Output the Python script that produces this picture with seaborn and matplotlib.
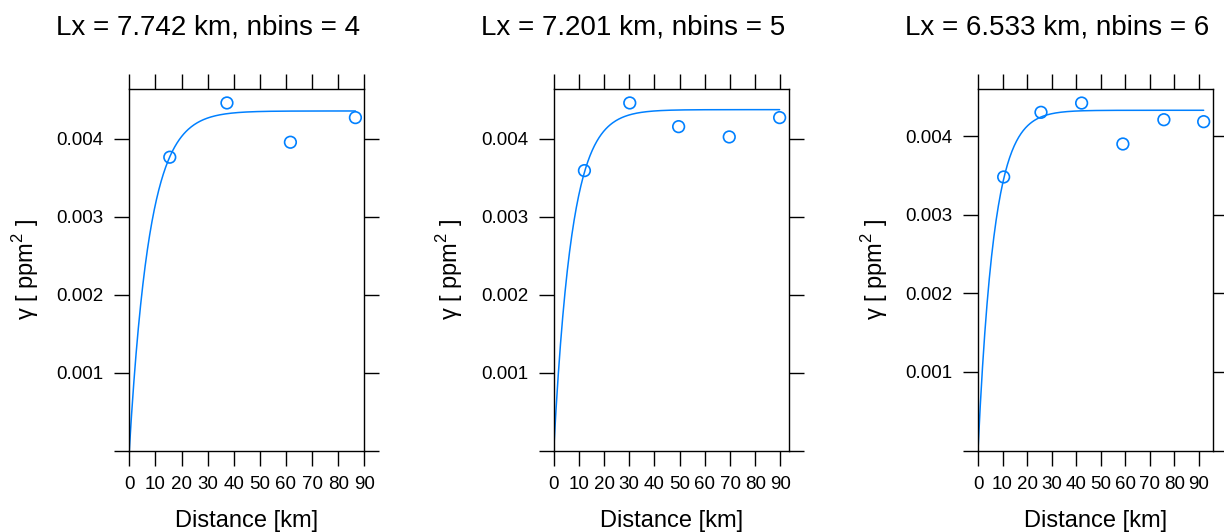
import numpy as np
import pandas as pd
import matplotlib
matplotlib.use("Agg")
import matplotlib.pyplot as plt
import seaborn as sns

# ---- data ----
titles = ["Lx = 7.742 km, nbins = 4", "Lx = 7.201 km, nbins = 5", "Lx = 6.533 km, nbins = 6"]
lx_km = [7.742, 7.201, 6.533]
sill = [0.004355, 0.004372, 0.004330]

dist1 = [15.5, 37.4, 61.7, 86.6]
gam1 = [0.003762, 0.004458, 0.003954, 0.004270]
dist2 = [12.2, 30.2, 49.6, 69.7, 89.7]
gam2 = [0.003590, 0.004458, 0.004154, 0.004022, 0.004270]
dist3 = [10.45, 25.65, 42.2, 59.0, 75.7, 91.9]
gam3 = [0.003481, 0.004304, 0.004422, 0.003901, 0.004210, 0.004185]

xlims = [(0, 90.0), (0, 93.3), (0, 95.7)]
ylims = [(0, 0.004633), (0, 0.004633), (0, 0.004597)]
xticks = [0, 10, 20, 30, 40, 50, 60, 70, 80, 90]
yticks = [0, 0.001, 0.002, 0.003, 0.004]
ytick_labels = ["", "0.001", "0.002", "0.003", "0.004"]

dists = [dist1, dist2, dist3]
gams = [gam1, gam2, gam3]

sns.set_style("ticks")
plt.rcParams['font.family'] = ['Liberation Sans', 'DejaVu Sans']
plt.rcParams['mathtext.fontset'] = 'custom'
plt.rcParams['mathtext.rm'] = 'Liberation Sans'
plt.rcParams['text.color'] = 'black'
plt.rcParams['axes.labelcolor'] = 'black'

color = "#0080ff"
fig = plt.figure(figsize=(12.24, 5.32), dpi=100)

lefts = [129.3, 553.7, 978.0]
widths = [235.0, 235.0, 235.0]
title_centers = [208, 633, 1057]
top_px, bot_px = 89.3, 450.5
W, H = 1224, 532

for i in range(3):
    ax = fig.add_axes([lefts[i] / W, 1 - bot_px / H, widths[i] / W, (bot_px - top_px) / H])
    h = np.linspace(0, dists[i][-1], 300)
    model = pd.DataFrame({"h": h, "g": sill[i] * (1 - np.exp(-h / lx_km[i]))})
    pts = pd.DataFrame({"d": dists[i], "g": gams[i]})
    sns.lineplot(data=model, x="h", y="g", ax=ax, color=color, lw=1.1)
    sns.scatterplot(data=pts, x="d", y="g", ax=ax, s=70, facecolor="none",
                    edgecolor=color, linewidth=1.2, zorder=3)
    ax.set_xlim(*xlims[i])
    ax.set_ylim(*ylims[i])
    ax.set_xticks(xticks)
    ax.set_yticks(yticks)
    ax.set_yticklabels(ytick_labels)
    ax.tick_params(direction="out", length=10.5, width=1, labelsize=13.5, colors="black",
                   labelcolor="black", top=True, right=True, labeltop=False,
                   labelright=False, pad=8)
    for s in ax.spines.values():
        s.set_visible(True)
        s.set_linewidth(1)
        s.set_color("black")
    ax.set_xlabel("Distance [km]", fontsize=17, labelpad=12, color="black")
    ax.set_ylabel(r"γ [ ppm$^{2}$ ]", fontsize=17, labelpad=11, color="black")
    fig.text(title_centers[i] / W, 1 - 27 / H, titles[i], ha="center", va="center",
             fontsize=20, color="black")

fig.savefig("out.png", dpi=100)
